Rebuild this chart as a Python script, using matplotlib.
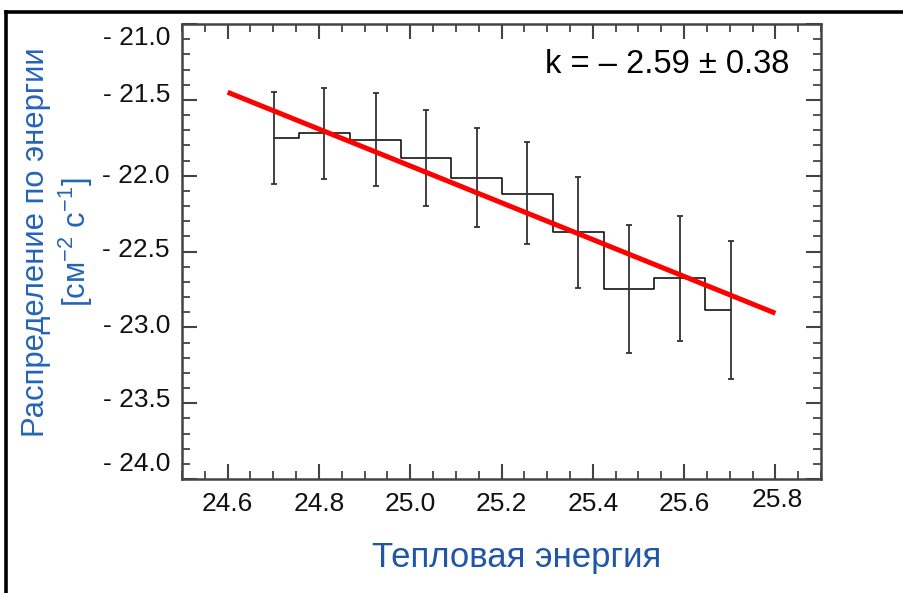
import matplotlib
matplotlib.use("Agg")
import matplotlib.pyplot as plt
import matplotlib.transforms as mtransforms
from matplotlib.ticker import MultipleLocator, FixedLocator
from matplotlib.lines import Line2D

plt.rcParams['font.family'] = ['Liberation Sans', 'DejaVu Sans']
plt.rcParams['mathtext.fontset'] = 'custom'
plt.rcParams['mathtext.rm'] = 'Liberation Sans'
plt.rcParams['mathtext.default'] = 'regular'

# ---- data ----
energy = [24.702, 24.812, 24.924, 25.034, 25.146, 25.256, 25.368, 25.479, 25.590, 25.702]
flux = [-21.751, -21.719, -21.763, -21.881, -22.013, -22.120, -22.373, -22.749, -22.672, -22.887]
err_low = [0.304, 0.300, 0.305, 0.317, 0.323, 0.330, 0.365, 0.422, 0.416, 0.455]
err_high = [0.305, 0.300, 0.306, 0.312, 0.325, 0.342, 0.362, 0.424, 0.406, 0.459]
fit_x = [24.6, 25.8]
fit_y = [-21.45, -22.907]

xtick_vals = [24.6, 24.8, 25.0, 25.2, 25.4, 25.6, 25.8]
xtick_labels = ['24.6', '24.8', '25.0', '25.2', '25.4', '25.6', '25.8']
ylabel_pos = [-21.09, -21.47, -22.0, -22.49, -22.99, -23.48, -23.9]
ylabel_text = ['- 21.0', '- 21.5', '- 22.0', '- 22.5', '- 23.0', '- 23.5', '- 24.0']
annot = 'k = – 2.59 ± 0.38'

# ---- figure ----
fig = plt.figure(figsize=(9.04, 5.93), dpi=100)
ax = fig.add_axes([182/904, 1-479/593, (821-182)/904, (479-24)/593])

axis_col = '#444444'
ax.step(energy, flux, where='mid', color='black', lw=1.1, zorder=2)
ax.errorbar(energy, flux, yerr=[err_low, err_high], fmt='none', ecolor='#333333',
            elinewidth=1.3, capsize=2.5, capthick=1.3, zorder=3)
ax.plot(fit_x, fit_y, color='#ff0000', lw=3.6, solid_capstyle='butt', zorder=4)

ax.set_xlim(24.5, 25.9)
ax.set_ylim(-24.0, -21.0)

for s in ax.spines.values():
    s.set_color(axis_col)
    s.set_linewidth(1.8)

ax.xaxis.set_major_locator(FixedLocator(xtick_vals))
ax.xaxis.set_minor_locator(MultipleLocator(0.05))
ax.set_xticklabels(xtick_labels)
ax.yaxis.set_major_locator(MultipleLocator(0.5))
ax.yaxis.set_minor_locator(MultipleLocator(0.1))
ax.set_yticklabels([])

ax.tick_params(which='both', direction='in', top=True, right=True, color=axis_col)
ax.tick_params(which='major', length=11, width=1.5)
ax.tick_params(which='minor', length=5.5, width=1.3)
ax.tick_params(axis='x', which='major', labelsize=19, pad=9.5, labelcolor='#111111')

# raise the last x tick label slightly
lbls = ax.get_xticklabels()
off = mtransforms.ScaledTranslation(0.02, 0.045, fig.dpi_scale_trans)
lbls[-1].set_transform(lbls[-1].get_transform() + off)

# y tick labels as text
ytr = mtransforms.blended_transform_factory(ax.transAxes, ax.transData)
for pos, txt in zip(ylabel_pos, ylabel_text):
    ax.text(-12/639, pos, txt, transform=ytr, ha='right', va='center',
            fontsize=19, color='#111111', clip_on=False)

ax.text(0.951, 0.912, annot, transform=ax.transAxes, ha='right', va='center',
        fontsize=23.5, color='black')

fig.text(517/904, 1-558/593, 'Тепловая энергия', ha='center', va='center',
         fontsize=25, color='#1f56a6')
fig.text(58/904, 1-242/593, 'Распределение по энергии\n[см$^{-2}$ с$^{-1}$]',
         rotation=90, ha='center', va='center', fontsize=22.3, color='#2464b8',
         linespacing=1.2, multialignment='center')

# figure frame (left and top)
fig.add_artist(Line2D([6.5/904, 6.5/904], [0, 1-12/593], transform=fig.transFigure,
                      color='black', lw=2.6))
fig.add_artist(Line2D([6.5/904, 1.0], [1-12/593, 1-12/593], transform=fig.transFigure,
                      color='black', lw=2.6))

fig.savefig('out.png', dpi=100)
